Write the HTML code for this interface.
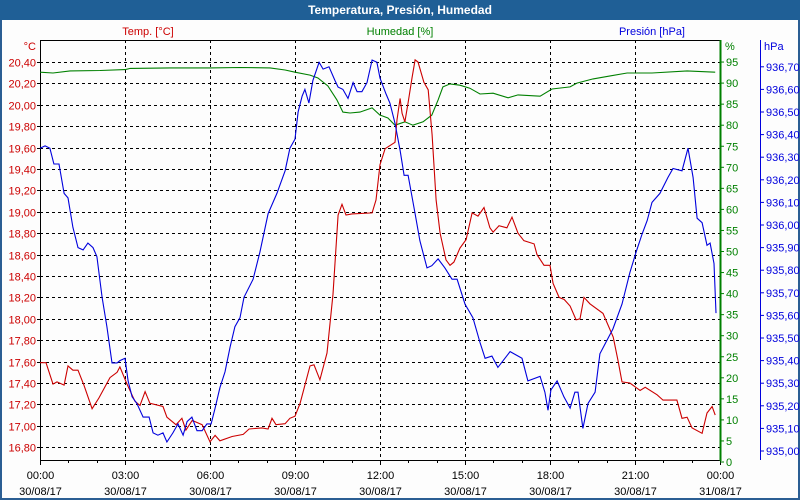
<!DOCTYPE html>
<html><head><meta charset="utf-8">
<style>
html,body{margin:0;padding:0;}
body{width:800px;height:500px;overflow:hidden;background:#fff;font-family:"Liberation Sans",sans-serif;}
#frame{position:absolute;left:0;top:0;width:796px;height:496px;border:2px solid #2b5e93;background:#fdfdfd;}
#title{position:absolute;left:0;top:0;width:800px;height:20px;background:#1f5f96;color:#fff;font-weight:bold;font-size:12px;text-align:center;line-height:20px;}
svg{position:absolute;left:0;top:0;}
</style></head>
<body>
<div id="frame"></div>
<div id="title">Temperatura, Presión, Humedad</div>
<svg id="chart" width="800" height="500"></svg>
<script>
const tempHours=[0,0.21,0.46,0.60,0.85,0.99,1.16,1.34,1.55,1.84,2.08,2.47,2.72,2.82,3.07,3.35,3.53,3.71,3.88,4.34,4.48,4.80,5.01,5.15,5.37,5.72,6.00,6.18,6.35,6.78,7.17,7.38,7.84,8.05,8.19,8.33,8.65,8.82,9.00,9.18,9.53,9.67,9.88,10.13,10.34,10.52,10.66,10.80,11.01,11.72,11.86,12.00,12.18,12.53,12.60,12.71,12.78,12.88,12.99,13.13,13.24,13.34,13.55,13.70,13.84,13.98,14.12,14.33,14.47,14.61,14.82,15.04,15.25,15.46,15.67,15.88,15.99,16.20,16.48,16.66,16.87,17.08,17.44,17.54,17.79,18.00,18.11,18.32,18.50,18.71,18.92,19.06,19.20,19.41,19.87,20.23,20.40,20.54,20.82,21.18,21.36,21.78,21.99,22.48,22.66,22.84,23.01,23.37,23.54,23.72,23.83];
const tempValues=[17.59,17.59,17.39,17.41,17.38,17.56,17.52,17.52,17.38,17.16,17.26,17.45,17.50,17.55,17.39,17.23,17.19,17.32,17.21,17.18,17.08,17.01,17.07,16.96,17.05,17.01,16.85,16.91,16.86,16.90,16.92,16.97,16.98,16.97,17.07,17.01,17.02,17.07,17.09,17.21,17.56,17.57,17.43,17.68,18.23,18.97,19.07,18.97,18.98,18.99,19.11,19.44,19.59,19.65,19.86,20.06,19.92,19.84,20.02,20.25,20.42,20.40,20.21,20.14,19.72,19.11,18.80,18.55,18.50,18.53,18.66,18.74,18.99,18.96,19.04,18.85,18.81,18.87,18.85,18.95,18.80,18.73,18.70,18.60,18.50,18.50,18.33,18.20,18.18,18.12,17.99,18.00,18.20,18.14,18.05,17.83,17.61,17.41,17.40,17.33,17.36,17.29,17.24,17.24,17.07,17.08,16.98,16.93,17.12,17.18,17.10];
const presHours=[0,0.18,0.35,0.49,0.67,0.85,0.99,1.16,1.34,1.52,1.69,1.87,2.01,2.19,2.36,2.54,2.72,2.82,3.00,3.11,3.25,3.42,3.64,3.85,3.99,4.16,4.34,4.48,4.69,4.87,5.05,5.19,5.36,5.54,5.72,5.89,6.04,6.18,6.35,6.53,6.71,6.88,7.06,7.20,7.52,7.76,8.05,8.36,8.65,8.82,9.00,9.11,9.25,9.35,9.49,9.63,9.85,9.99,10.20,10.41,10.52,10.69,10.87,11.05,11.19,11.36,11.54,11.72,11.89,12.00,12.21,12.35,12.53,12.71,12.85,12.99,13.24,13.41,13.66,13.83,14.05,14.29,14.54,14.72,15.00,15.28,15.53,15.71,15.95,16.16,16.59,17.01,17.22,17.65,17.82,17.93,18.03,18.25,18.49,18.71,18.88,18.99,19.16,19.34,19.59,19.76,20.01,20.22,20.54,20.82,21.04,21.25,21.43,21.60,21.88,22.16,22.34,22.66,22.87,23.05,23.19,23.37,23.54,23.65,23.79,23.86];
const presValues=[936.34,936.35,936.34,936.27,936.27,936.14,936.12,935.99,935.90,935.89,935.92,935.90,935.86,935.68,935.55,935.39,935.39,935.40,935.41,935.31,935.24,935.21,935.15,935.15,935.08,935.07,935.08,935.04,935.08,935.12,935.07,935.13,935.15,935.09,935.09,935.12,935.12,935.19,935.28,935.35,935.46,935.55,935.59,935.68,935.76,935.88,936.05,936.14,936.24,936.34,936.38,936.50,936.57,936.60,936.54,936.64,936.72,936.69,936.70,936.64,936.61,936.60,936.56,936.63,936.59,936.59,936.63,936.73,936.72,936.65,936.58,936.54,936.45,936.33,936.22,936.22,936.05,935.93,935.81,935.82,935.85,935.81,935.76,935.76,935.65,935.59,935.48,935.41,935.42,935.37,935.44,935.41,935.31,935.33,935.26,935.18,935.27,935.31,935.24,935.19,935.26,935.26,935.10,935.21,935.26,935.43,935.49,935.54,935.65,935.79,935.88,935.96,936.02,936.10,936.14,936.21,936.25,936.24,936.34,936.21,936.03,936.01,935.91,935.92,935.83,935.61,935.59];
const humHours=[0,0.46,1.06,2.12,3.00,3.18,4.59,6.00,7.06,8.12,8.65,9.00,9.53,9.81,10.16,10.48,10.69,10.94,11.29,11.72,12.00,12.28,12.53,12.88,13.16,13.52,13.83,14.05,14.22,14.47,14.82,15.17,15.53,15.99,16.52,16.87,17.65,18.07,18.71,18.95,19.52,20.12,20.72,21.60,22.84,23.83];
const humValues=[92.6,92.4,92.9,93.0,93.2,93.5,93.6,93.6,93.7,93.6,93.1,92.6,91.9,91.2,89.3,86.0,83.1,82.9,83.1,84.1,82.4,81.7,80.0,80.8,80.0,80.8,82.4,86.0,89.1,89.8,89.5,88.8,87.4,87.6,86.5,87.2,86.9,88.6,89.1,90.0,91.0,91.7,92.4,92.4,92.9,92.6];
const tempTicks=["16,80","17,00","17,20","17,40","17,60","17,80","18,00","18,20","18,40","18,60","18,80","19,00","19,20","19,40","19,60","19,80","20,00","20,20","20,40"];
const humTicks=["0","5","10","15","20","25","30","35","40","45","50","55","60","65","70","75","80","85","90","95"];
const presTicks=["935,00","935,10","935,20","935,30","935,40","935,50","935,60","935,70","935,80","935,90","936,00","936,10","936,20","936,30","936,40","936,50","936,60","936,70"];
const timeLabels=["00:00","03:00","06:00","09:00","12:00","15:00","18:00","21:00","00:00"];
const dateLabels=["30/08/17","30/08/17","30/08/17","30/08/17","30/08/17","30/08/17","30/08/17","30/08/17","31/08/17"];

const L=40,R=720,T=40,B=460;
const xS=h=>L+h*(R-L)/24;
const yT=v=>62+(20.40-v)*107;
const yH=v=>462-v*4.21;
const yP=v=>451-(v-935)*226;
const svg=document.getElementById('chart');
const NS='http://www.w3.org/2000/svg';
function mk(tag,attrs){const e=document.createElementNS(NS,tag);for(const k in attrs)e.setAttribute(k,attrs[k]);svg.appendChild(e);return e;}
function txt(x,y,s,color,anchor){const e=mk('text',{x:x,y:y,fill:color,'font-size':'11','text-anchor':anchor,'font-family':'Liberation Sans, sans-serif'});e.textContent=s;return e;}

// horizontal grid
tempTicks.forEach((t,i)=>{const v=16.8+i*0.2;const y=Math.round(yT(v))+0.5;
 const g=mk('line',{x1:L,x2:R,y1:y,y2:y,stroke:'#000','stroke-dasharray':'3,3','stroke-width':1});
 
 
 const l=txt(36,y+4,t,'#cc0000','end');
 
 
 mk('line',{x1:L-3,x2:L,y1:y,y2:y,stroke:'#000'});
});
// vertical grid
timeLabels.forEach((t,i)=>{const x=Math.round(xS(i*3))+0.5;
 if(i>0&&i<8){const g=mk('line',{x1:x,x2:x,y1:T,y2:B,stroke:'#000','stroke-dasharray':'3,3'});
 
 }
 const a=txt(x,479,t,'#000','middle');
 
 
 const b=txt(x,495,dateLabels[i],'#000','middle');
 
 
});
for(let h=0;h<=24;h++){const x=Math.round(xS(h))+0.5;mk('line',{x1:x,x2:x,y1:B,y2:B+(h%3==0?5:3),stroke:'#000'});}
// axes
let a=mk('rect',{x:L+0.5,y:T+0.5,width:R-L,height:B-T,fill:'none',stroke:'#000'});


a=mk('line',{x1:R+0.5,x2:R+0.5,y1:T,y2:B+1,stroke:'#008000','stroke-width':2});


a=mk('line',{x1:760.5,x2:760.5,y1:T,y2:B,stroke:'#0000dd'});


humTicks.forEach((t,i)=>{const y=yH(+t);mk('line',{x1:R,x2:R+4,y1:y,y2:y,stroke:'#008000'});
 const l=txt(726,y+4,t,'#008000','start');
 
 });
presTicks.forEach((t,i)=>{const y=yP(935+i*0.1);mk('line',{x1:760,x2:764,y1:y,y2:y,stroke:'#0000dd'});
 const l=txt(766,y+4,t,'#0000dd','start');
 
 });
// axis titles
[[148,35,'Temp. [°C]','#cc0000','middle','temp-axis-title'],[400,35,'Humedad [%]','#008000','middle','humidity-axis-title'],[685,35,'Presión [hPa]','#0000dd','end','pressure-axis-title'],[36,50,'°C','#cc0000','end','temp-unit'],[725,50,'%','#008000','start','humidity-unit'],[764,50,'hPa','#0000dd','start','pressure-unit']].forEach(d=>{
 const e=txt(d[0],d[1],d[2],d[3],d[4]);
 
 });
// series
function series(hs,vs,yf,color,name){const pts=hs.map((h,i)=>xS(h).toFixed(1)+','+yf(vs[i]).toFixed(1)).join(' ');
 const p=mk('polyline',{points:pts,fill:'none',stroke:color,'stroke-width':1.1});
 
 }
series(humHours,humValues,yH,'#008000','humidity-line');
series(tempHours,tempValues,yT,'#cc0000','temperature-line');
series(presHours,presValues,yP,'#0000dd','pressure-line');
</script>
</body></html>
